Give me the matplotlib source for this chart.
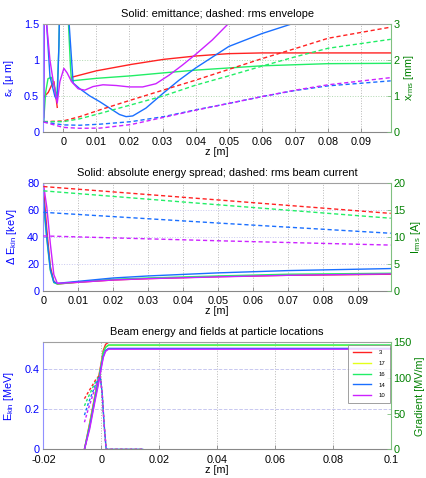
import numpy as np
import matplotlib
matplotlib.use('Agg')
import matplotlib.pyplot as plt

plt.rcParams['font.family'] = ['Liberation Sans', 'DejaVu Sans']
plt.rcParams['font.size'] = 7.8
plt.rcParams['axes.titlesize'] = 7.9
plt.rcParams['mathtext.fontset'] = 'custom'
plt.rcParams['mathtext.rm'] = 'Liberation Sans'

# bunch colours (legend order: 3, 17, 16, 14, 10)
RED, YELLOW, GREEN, BLUE, MAGENTA = '#ff2222', '#e4ff1a', '#22ee66', '#1a6fff', '#cc22ff'
LEFT_C, RIGHT_C = '#0000ff', '#008000'

# ---- panel 1: emittance (solid, um) and rms envelope (dashed, mm) ----
z_eps_red = [-0.0059, -0.0045, -0.0035, -0.0028, -0.0018, np.nan, 0.0025, 0.0025, 0.010, 0.0206,
             0.0303, 0.040, 0.050, 0.060, 0.075, 0.0989]
eps_red = [0.48, 0.55, 0.65, 0.70, 0.34, np.nan, 0.73, 0.76, 0.85, 0.94,
           1.01, 1.057, 1.09, 1.10, 1.10, 1.10]
z_eps_green = [-0.0059, -0.0053, -0.0046, -0.0036, -0.0026, -0.0019, -0.0013, -0.0008, 0.0008,
               0.0015, 0.0022, 0.0025, 0.010, 0.0205, 0.030, 0.040, 0.050, 0.060, 0.070, 0.080, 0.0989]
eps_green = [0.15, 0.55, 0.74, 0.76, 0.62, 0.47, 1.2, 2.5, 2.5,
             1.6, 0.9, 0.71, 0.745, 0.78, 0.82, 0.86, 0.89, 0.92, 0.935, 0.95, 0.955]
z_eps_blue = [-0.0059, -0.0057, -0.0050, -0.0040, -0.0025, -0.0018, -0.0013, -0.0008, 0.0010,
              0.0018, 0.003, 0.005, 0.008, 0.011, 0.014, 0.017, 0.019, 0.021, 0.025, 0.030,
              0.035, 0.040, 0.045, 0.050, 0.060, 0.068, 0.072]
eps_blue = [0.15, 2.0, 1.5, 0.77, 0.49, 0.44, 1.2, 2.5, 2.5,
            1.5, 0.68, 0.60, 0.50, 0.42, 0.33, 0.24, 0.21, 0.22, 0.33, 0.53,
            0.72, 0.89, 1.04, 1.19, 1.37, 1.49, 1.55]
z_eps_mag = [-0.0059, -0.0057, -0.0050, -0.0040, -0.0030, -0.0018, -0.0010, 0.0002, 0.0012,
             0.0025, 0.0045, 0.0065, 0.009, 0.012, 0.016, 0.020, 0.024, 0.028, 0.032, 0.036,
             0.040, 0.045, 0.0497, 0.052]
eps_mag = [0.2, 2.0, 1.5, 1.0, 0.7, 0.40, 0.70, 0.885, 0.82,
           0.70, 0.60, 0.58, 0.63, 0.655, 0.645, 0.625, 0.625, 0.67, 0.79, 0.93,
           1.08, 1.28, 1.5, 1.6]

z_env = [-0.0059, 0.0, 0.005, 0.0111, 0.0205, 0.0303, 0.040, 0.050, 0.060, 0.070, 0.080, 0.0989]
env_red = [0.28, 0.30, 0.42, 0.61, 0.885, 1.165, 1.44, 1.74, 2.04, 2.32, 2.61, 2.92]
env_green = [0.28, 0.28, 0.36, 0.51, 0.75, 1.00, 1.30, 1.56, 1.83, 2.09, 2.33, 2.58]
env_blue = [0.27, 0.19, 0.18, 0.21, 0.28, 0.42, 0.61, 0.79, 0.98, 1.15, 1.28, 1.42]
env_mag = [0.27, 0.12, 0.095, 0.10, 0.20, 0.40, 0.60, 0.79, 0.98, 1.16, 1.31, 1.51]

# ---- panel 2: energy spread (solid, keV) and rms current (dashed, A) ----
z_spread = [0.0, 0.001, 0.002, 0.003, 0.004, 0.010, 0.020, 0.030, 0.050, 0.070, 0.0993]
spread_red = [78, 45, 18, 7, 5, 6.3, 8, 9, 10.5, 11.5, 12.3]
spread_green = [65, 38, 15, 6, 5, 6.5, 8.5, 9.5, 11, 12.3, 13]
spread_blue = [70, 40, 16, 6.5, 5.5, 7, 9.5, 11, 13.3, 15, 16.5]
spread_mag = [80, 62, 35, 12, 5.5, 6.3, 8, 9, 10.3, 11.5, 12.5]

z_cur = [0.0, 0.05, 0.0993]
cur_red = [19.4, 16.9, 14.4]
cur_green = [18.6, 16.0, 13.5]
cur_blue = [14.6, 12.6, 10.7]
cur_mag = [10.2, 9.3, 8.5]

# ---- panel 3: kinetic energy (MeV) and gradient at particle (MV/m) ----
z_ek = [-0.0058, -0.004, -0.002, -0.001, 0.0, 0.0007, 0.0015, 0.0025, 0.1]
ek_red = [0, 0.13, 0.28, 0.35, 0.43, 0.49, 0.52, 0.53, 0.53]
ek_yellow = [0, 0.12, 0.27, 0.34, 0.42, 0.48, 0.505, 0.515, 0.515]
ek_green = [0, 0.12, 0.27, 0.34, 0.42, 0.48, 0.505, 0.517, 0.517]
ek_blue = [0, 0.11, 0.26, 0.33, 0.41, 0.46, 0.49, 0.50, 0.50]
ek_mag = [0, 0.10, 0.25, 0.32, 0.40, 0.455, 0.485, 0.496, 0.496]
z_ek_red_end = 0.045

z_grad = [-0.0058, -0.0045, -0.003, -0.002, -0.001, -0.0004, 0.0003, 0.0010, 0.0017, 0.0145]
grad_red = [71, 80, 90, 97, 102, 104, 80, 35, 0, 0]
grad_green = [61, 73, 86, 94, 101, 104, 80, 35, 0, 0]
grad_blue = [48, 64, 80, 90, 99, 103, 80, 35, 0, 0]
grad_mag = [38, 56, 75, 87, 98, 103, 80, 35, 0, 0]

bunch_labels = ['3', '17', '16', '14', '10']

DASH = (3, 2)
LW = 1.0


def style_axes(ax, ax2, hgrid_color):
    for a in (ax, ax2):
        a.tick_params(direction='in', length=3, width=0.6)
    ax.tick_params(axis='y', color='#9090ff', labelcolor=LEFT_C, pad=3)
    ax2.tick_params(axis='y', color='#80c080', labelcolor=RIGHT_C, pad=2)
    ax.tick_params(axis='x', color='#888888', labelcolor='black', pad=4)
    ax.spines['left'].set_color('#9090ff')
    ax.spines['top'].set_color('#a0a0a0')
    ax.spines['bottom'].set_color('#888888')
    ax.spines['right'].set_visible(False)
    ax2.spines['right'].set_color('#80c080')
    for s in ('left', 'top', 'bottom'):
        ax2.spines[s].set_visible(False)
    ax.xaxis.grid(True, linestyle=':', color='#b8b8b8', linewidth=0.7)
    ax.yaxis.grid(True, linestyle=':', color=hgrid_color, linewidth=0.7)
    ax.set_axisbelow(True)


fig = plt.figure(figsize=(4.27, 4.78), dpi=100)

# panel 1
ax = fig.add_axes([0.1015, 0.7245, 0.8135, 0.2247])
ax2 = ax.twinx()
for z, v, c in [(z_eps_red, eps_red, RED), (z_eps_green, eps_green, GREEN),
                (z_eps_blue, eps_blue, BLUE), (z_eps_mag, eps_mag, MAGENTA)]:
    ax.plot(z, v, color=c, lw=LW)
for v, c in [(env_red, RED), (env_green, GREEN), (env_blue, BLUE), (env_mag, MAGENTA)]:
    ax2.plot(z_env, v, color=c, lw=LW, dashes=DASH)
ax.set_xlim(-0.006, 0.0989)
ax.set_ylim(0, 1.5)
ax2.set_ylim(0, 3)
ax.set_xticks(np.arange(0, 0.1, 0.01))
ax.set_xticklabels(['0'] + ['%.2f' % t for t in np.arange(0.01, 0.095, 0.01)])
ax.set_yticks([0, 0.5, 1, 1.5])
ax.set_yticklabels(['0', '0.5', '1', '1.5'])
ax2.set_yticks([0, 1, 2, 3])
style_axes(ax, ax2, '#b0d8b0')
ax.set_title('Solid: emittance; dashed: rms envelope', pad=5)
ax.set_xlabel('z [m]', labelpad=0)
ax.set_ylabel(r'ε$\mathregular{_x}$ [μ m]', color=LEFT_C, labelpad=6)
ax2.set_ylabel(r'x$\mathregular{_{rms}}$ [mm]', color=RIGHT_C, labelpad=2)

# panel 2
ax = fig.add_axes([0.1015, 0.3918, 0.8135, 0.2247])
ax2 = ax.twinx()
for v, c in [(spread_red, RED), (spread_green, GREEN), (spread_blue, BLUE), (spread_mag, MAGENTA)]:
    ax.plot(z_spread, v, color=c, lw=LW)
for v, c in [(cur_red, RED), (cur_green, GREEN), (cur_blue, BLUE), (cur_mag, MAGENTA)]:
    ax2.plot(z_cur, v, color=c, lw=LW, dashes=DASH)
ax.set_xlim(0, 0.0993)
ax.set_ylim(0, 80)
ax2.set_ylim(0, 20)
ax.set_xticks(np.arange(0, 0.1, 0.01))
ax.set_xticklabels(['0'] + ['%.2f' % t for t in np.arange(0.01, 0.095, 0.01)])
ax.set_yticks([0, 20, 40, 60, 80])
ax2.set_yticks([0, 5, 10, 15, 20])
style_axes(ax, ax2, '#c8c8f0')
ax.set_title('Solid: absolute energy spread; dashed: rms beam current', pad=5)
ax.set_xlabel('z [m]', labelpad=0)
ax.set_ylabel(r'Δ E$\mathregular{_{kin}}$ [keV]', color=LEFT_C, labelpad=6)
ax2.set_ylabel(r'I$\mathregular{_{rms}}$ [A]', color=RIGHT_C, labelpad=2)

# panel 3
ax = fig.add_axes([0.1015, 0.060, 0.8135, 0.2238])
ax2 = ax.twinx()
z_red_plateau = [z if z < 0.05 else z_ek_red_end for z in z_ek]
handles = []
for z, v, c, lab in [(z_red_plateau, ek_red, RED, bunch_labels[0]),
                     (z_ek, ek_yellow, YELLOW, bunch_labels[1]),
                     (z_ek, ek_green, GREEN, bunch_labels[2]),
                     (z_ek, ek_blue, BLUE, bunch_labels[3]),
                     (z_ek, ek_mag, MAGENTA, bunch_labels[4])]:
    h, = ax.plot(z, v, color=c, lw=LW, label=lab)
    handles.append(h)
for v, c in [(grad_red, RED), (grad_green, GREEN), (grad_blue, BLUE), (grad_mag, MAGENTA)]:
    ax2.plot(z_grad, v, color=c, lw=LW, dashes=(2, 1.5))
ax.set_xlim(-0.02, 0.1)
ax.set_ylim(0, 0.53)
ax2.set_ylim(0, 150)
ax.set_xticks([-0.02, 0, 0.02, 0.04, 0.06, 0.08, 0.1])
ax.set_xticklabels(['-0.02', '0', '0.02', '0.04', '0.06', '0.08', '0.1'])
ax.set_yticks([0, 0.2, 0.4])
ax.set_yticklabels(['0', '0.2', '0.4'])
ax2.set_yticks([0, 50, 100, 150])
style_axes(ax, ax2, '#c8c8f0')
ax.yaxis.grid(True, linestyle='--', color='#c8c8f0', linewidth=0.7)
ax.set_title('Beam energy and fields at particle locations', pad=5)
ax.set_xlabel('z [m]', labelpad=0)
ax.set_ylabel(r'E$\mathregular{_{kin}}$ [MeV]', color=LEFT_C, labelpad=6)
ax2.set_ylabel('Gradient [MV/m]', color=RIGHT_C, labelpad=2)
leg = ax2.legend(handles, bunch_labels, loc='upper right', bbox_to_anchor=(0.998, 0.975),
                 fontsize=4.3, frameon=True, fancybox=False, handlelength=3.0,
                 borderpad=0.8, labelspacing=0.95, handletextpad=1.3, borderaxespad=0)
leg.get_frame().set_edgecolor('#888888')
leg.get_frame().set_linewidth(0.7)

fig.savefig('out.png', dpi=100)
